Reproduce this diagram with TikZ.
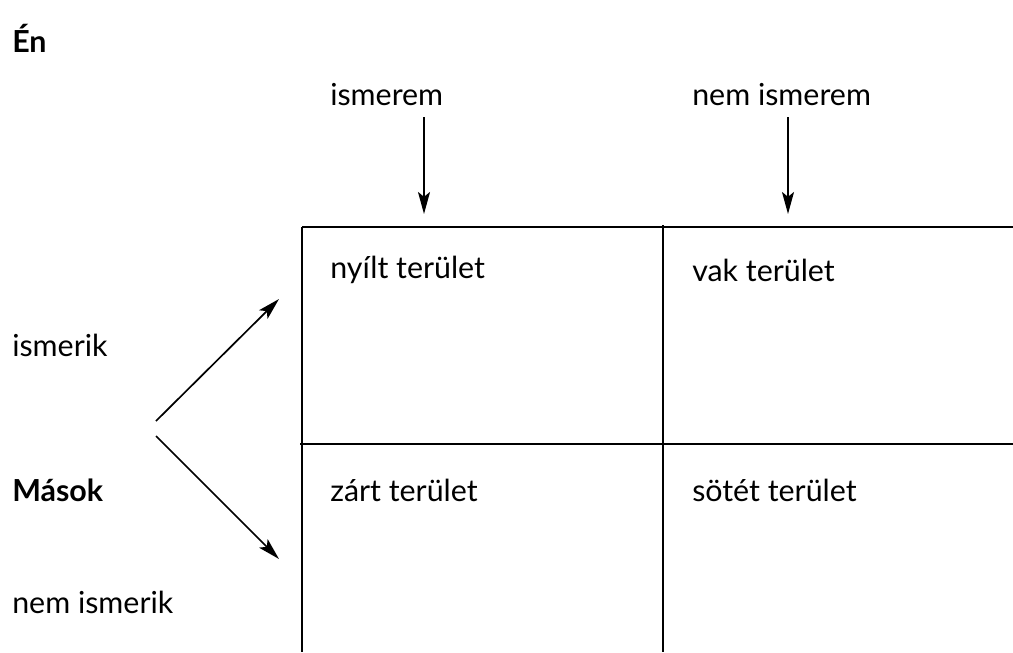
\documentclass[tikz,border=0pt]{standalone}
\usepackage{fontspec}
\setmainfont{Lato}
\usetikzlibrary{arrows.meta}

\begin{document}
\begin{tikzpicture}[x=0.025cm,y=-0.025cm,
    lbl/.style={anchor=west,inner sep=0pt,font=\fontsize{21.6}{26}\selectfont},
    grid/.style={line width=1.6pt},
    pointer/.style={line width=1.2pt,-{Stealth[length=0.55cm,width=0.3cm,inset=0.12cm]}}]
    \useasboundingbox (0,0) rectangle (1013,652);

    \node[lbl] (en) at (12,38) {\textbf{Én}};
    \node[lbl] (ismerem) at (330,95) {ismerem};
    \node[lbl] (nemismerem) at (692,95) {nem ismerem};
    \node[lbl] (ismerik) at (12,345) {ismerik};
    \node[lbl] (masok) at (12,490) {\textbf{Mások}};
    \node[lbl] (nemismerik) at (12,602) {nem ismerik};

    \node[lbl] (nyilt) at (330,270) {nyílt terület};
    \node[lbl] (vak) at (692,270) {vak terület};
    \node[lbl] (zart) at (330,490) {zárt terület};
    \node[lbl] (sotet) at (692,490) {sötét terület};

    \begin{scope}
        \draw[grid] (302,227) -- (1013,227);
        \draw[grid] (300,444) -- (1013,444);
        \draw[grid] (302,227) -- (302,652);
        \draw[grid] (663,225) -- (663,652);
    \end{scope}

    \coordinate (fork up) at (156,421);
    \coordinate (fork down) at (156,436);
    \coordinate (open) at (279,299);
    \coordinate (hidden) at (279,559);
    \coordinate (col one) at (424,214);
    \coordinate (col two) at (788,214);

    \draw[pointer] (424,117) -- (col one);
    \draw[pointer] (788,117) -- (col two);
    \draw[pointer] (fork up) -- (open);
    \draw[pointer] (fork down) -- (hidden);
\end{tikzpicture}
\end{document}
